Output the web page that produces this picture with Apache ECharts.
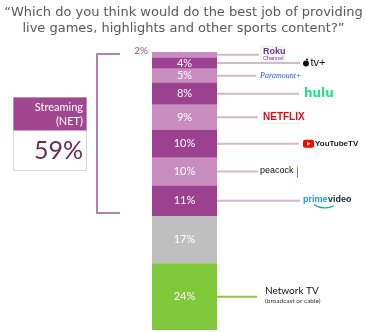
<!DOCTYPE html>
<html><head><meta charset="utf-8">
<script src="https://cdn.jsdelivr.net/npm/echarts@6/dist/echarts.min.js"></script>
<style>html,body{margin:0;padding:0;background:#fff}#c{width:367px;height:332px}</style>
</head><body><div id="c"></div>
<script>
// ---- data ----
const categories = ['Roku Channel', 'Apple TV+', 'Paramount+', 'Hulu', 'Netflix', 'YouTube TV', 'Peacock', 'Prime Video', 'Other', 'Network TV'];
const values = [2, 4, 5, 8, 9, 10, 10, 11, 17, 24];
const streamingNet = 59;
const streamingCount = 8; // first 8 categories are streaming services
const titleLines = ['\u201cWhich do you think would do the best job of providing', 'live games, highlights and other sports content?\u201d'];
const boxLabel = ['Streaming', '(NET)'];
const networkLabel = ['Network TV', '(broadcast or cable)'];

// ---- styles ----
const DARK = '#9c4190', LIGHT = '#c98cbf', GREY = '#bfbfbf', GREEN = '#80c93b';
const segColors = [LIGHT, DARK, LIGHT, DARK, LIGHT, DARK, LIGHT, DARK, GREY, GREEN];
const lineEnd = [259, 300, 256, 299, 258, 299, 258, 300, null, 257];
const FONT = 'Lato, "DejaVu Sans", sans-serif';

const chart = echarts.init(document.getElementById('c'), null, {renderer: 'canvas'});

const series = categories.map((name, i) => ({
  name, type: 'bar', stack: 'all', barWidth: '100%',
  data: [values[i]],
  itemStyle: {color: segColors[i]},
  label: i === 0 ? {
    show: true, position: 'left', distance: 4, offset: [0, -4],
    formatter: '{c}%', color: '#8b5a86', fontSize: 10, fontFamily: FONT
  } : {
    show: true, position: 'inside', formatter: '{c}%', color: '#fff', fontSize: 11, fontFamily: FONT
  },
  emphasis: {disabled: true}
}));

chart.setOption({
  animation: false,
  title: {
    text: titleLines.join('\n'), left: 'center', top: 0,
    textStyle: {fontSize: 13, fontWeight: 'normal', color: '#595959', fontFamily: '"DejaVu Sans", sans-serif', lineHeight: 16}
  },
  grid: {left: 152, top: 52, width: 65, height: 278},
  xAxis: {type: 'category', data: ['all'], show: false},
  yAxis: {type: 'value', min: 0, max: 100, inverse: true, show: false},
  series
});

// positions from the axis scale
const cum = [0];
values.forEach((v, i) => cum.push(cum[i] + v));
const yAt = v => chart.convertToPixel({gridIndex: 0}, [0, v])[1];
const right = 152 + 65;
const mid = values.map((v, i) => (yAt(cum[i]) + yAt(cum[i + 1])) / 2);

const g = [];
// leader lines
values.forEach((v, i) => {
  if (lineEnd[i] == null) return;
  g.push({type: 'line', silent: true, shape: {x1: right, y1: mid[i], x2: lineEnd[i], y2: mid[i]},
    style: {stroke: i === 9 ? '#8cc63f' : '#d2b9cd', lineWidth: 2}});
});

function txt(x, y, t, style) {
  g.push({type: 'text', silent: true, x, y, style: Object.assign({text: t, textVerticalAlign: 'middle', verticalAlign: 'middle', fontFamily: FONT}, style)});
}
// Roku
g.push({type: 'rect', silent: true, shape: {x: 261, y: mid[0] - 8, width: 23, height: 15}, style: {fill: '#fff', stroke: '#d8d8d8', lineWidth: 0.6}});
txt(263, mid[0] - 3, 'Roku', {fontSize: 9, fontWeight: 'bold', fill: '#6f2c91', fontFamily: 'Arial, "Liberation Sans", sans-serif'});
txt(263, mid[0] + 3.5, 'Channel', {fontSize: 5.5, fill: '#6f2c91', fontFamily: 'Arial, "Liberation Sans", sans-serif'});
// Apple TV+
g.push({type: 'circle', silent: true, shape: {cx: 306, cy: mid[1] + 0.5, r: 3}, style: {fill: '#111'}});
g.push({type: 'circle', silent: true, shape: {cx: 307, cy: mid[1] - 3.5, r: 1}, style: {fill: '#111'}});
txt(310.5, mid[1], 'tv+', {fontSize: 11, fill: '#111', fontFamily: '"Liberation Sans", Arial, sans-serif'});
// Paramount+
txt(260, mid[2], 'Paramount+', {fontSize: 8, fontStyle: 'italic', fill: '#1a5bd6', fontFamily: '"Liberation Serif", serif'});
// hulu
txt(304, mid[3], 'hulu', {fontSize: 12, fontWeight: 'bold', fill: '#1ce783', fontFamily: '"DejaVu Sans", sans-serif'});
// Netflix
g.push({type: 'rect', silent: true, shape: {x: 262, y: mid[4] - 6, width: 37, height: 12}, style: {fill: '#fff', stroke: '#e6e6e6', lineWidth: 0.6}});
txt(263, mid[4], 'NETFLIX', {fontSize: 10, fontWeight: 'bold', fill: '#e50914', fontFamily: '"Liberation Sans Narrow", "Liberation Sans", sans-serif'});
// YouTube TV
g.push({type: 'rect', silent: true, shape: {x: 303, y: mid[5] - 4, width: 11, height: 8, r: 2}, style: {fill: '#ff0000'}});
g.push({type: 'polygon', silent: true, shape: {points: [[307, mid[5] - 2], [307, mid[5] + 2], [310.5, mid[5]]]}, style: {fill: '#fff'}});
txt(315, mid[5], 'YouTubeTV', {fontSize: 8, fontWeight: 'bold', fill: '#222', fontFamily: '"Liberation Sans Narrow", "Liberation Sans", sans-serif'});
// peacock
txt(260, mid[6] - 1, 'peacock', {fontSize: 9, fill: '#111', fontFamily: '"Liberation Sans", Arial, sans-serif'});
['#f5c400', '#f08a00', '#e0302f', '#7a45b5', '#1e88e5', '#22a84a'].forEach((c, k) => {
  g.push({type: 'rect', silent: true, shape: {x: 297, y: mid[6] - 6 + k * 2, width: 1, height: 2}, style: {fill: c}});
});
// prime video
txt(303, mid[7] - 1, 'prime', {fontSize: 9, fontWeight: 'bold', fill: '#1d9bd7', fontFamily: '"Liberation Sans", Arial, sans-serif'});
txt(328, mid[7] - 1, 'video', {fontSize: 9, fontWeight: 'bold', fill: '#232f3e', fontFamily: '"Liberation Sans", Arial, sans-serif'});
g.push({type: 'bezierCurve', silent: true, shape: {x1: 314, y1: mid[7] + 4, x2: 334, y2: mid[7] + 5, cpx1: 320, cpy1: mid[7] + 8, cpx2: 328, cpy2: mid[7] + 8}, style: {stroke: '#1d9bd7', lineWidth: 1.2, fill: null}});
// Network TV
txt(265, mid[9] - 6, networkLabel[0], {fontSize: 10, fill: '#111'});
txt(265, mid[9] + 4, networkLabel[1], {fontSize: 6.5, fill: '#333'});

// bracket spanning streaming segments
const bTop = yAt(cum[0]) + 2, bBot = yAt(cum[streamingCount]) - 3;
g.push({type: 'polyline', silent: true, shape: {points: [[120, bTop], [97, bTop], [97, bBot], [120, bBot]]}, style: {stroke: '#b582ad', lineWidth: 2, fill: null}});

// Streaming (NET) box
g.push({type: 'rect', silent: true, shape: {x: 13.5, y: 97.5, width: 73, height: 73}, style: {fill: '#fff', stroke: '#d9d9d9', lineWidth: 1}});
g.push({type: 'rect', silent: true, shape: {x: 13.5, y: 97.5, width: 73, height: 33}, style: {fill: '#a1468f'}});
txt(83, 107, boxLabel[0], {fontSize: 11, fill: '#fff', align: 'right', textAlign: 'right'});
txt(83, 121, boxLabel[1], {fontSize: 11, fill: '#fff', align: 'right', textAlign: 'right'});
txt(83, 151, streamingNet + '%', {fontSize: 25, fill: '#6b2a60', align: 'right', textAlign: 'right'});

chart.setOption({graphic: {elements: g}});
</script></body></html>
